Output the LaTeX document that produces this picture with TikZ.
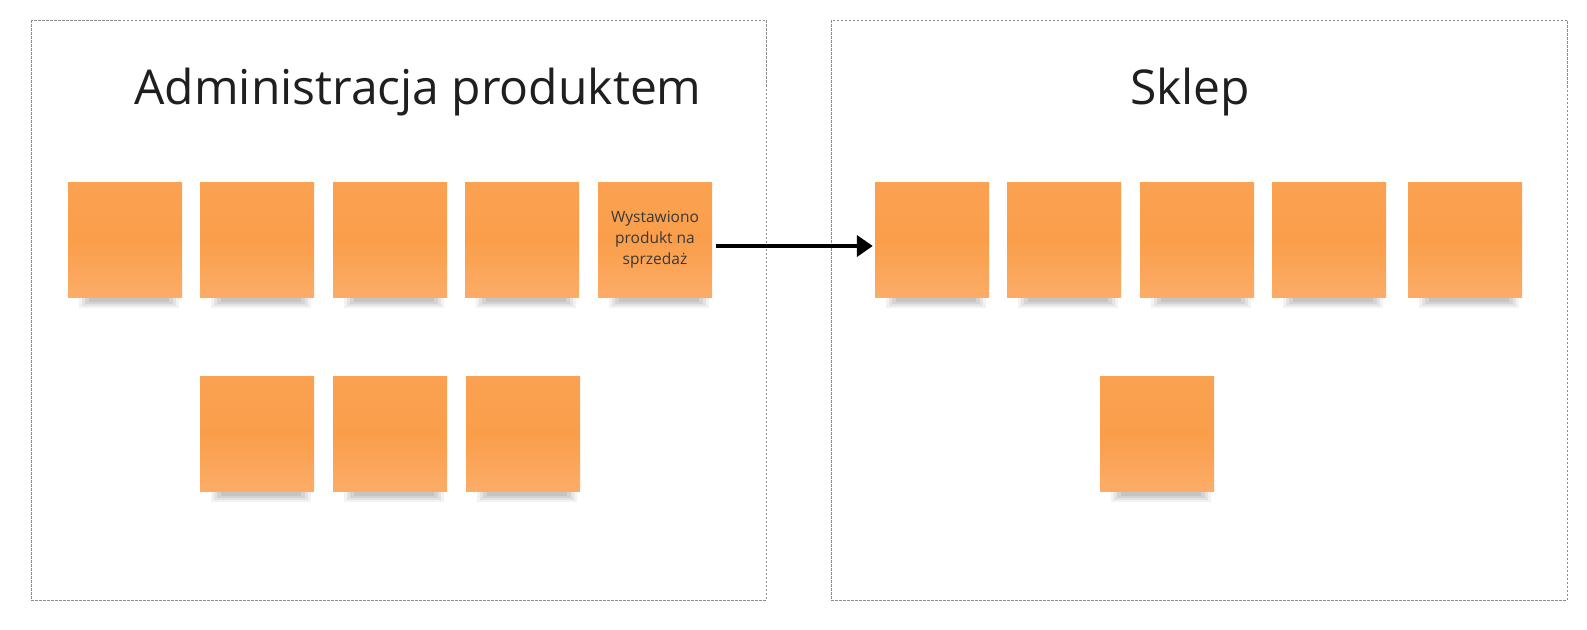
\documentclass[tikz,border=0pt]{standalone}
\usepackage{fontspec}
\setmainfont{Open Sans}
\usetikzlibrary{arrows.meta}
\definecolor{noteA}{RGB}{250,158,74}
\definecolor{noteT}{RGB}{250,162,82}
\definecolor{noteB}{RGB}{252,172,104}
\definecolor{frameC}{RGB}{140,140,140}
\tikzset{
  frame/.style={draw=frameC, dashed, dash pattern=on 2.5pt off 1.5pt, line width=0.9pt},
  sticky/.style={minimum width=114pt, minimum height=115pt, inner sep=2pt,
     top color=noteT, bottom color=noteB, middle color=noteA, draw=none,
     align=center, font=\fontsize{15.5}{21}\selectfont, text=black!78},
  titletext/.style={font=\fontsize{48}{56}\selectfont, text=black!88},
  link/.style={line width=4.5pt, -{Triangle[length=16pt,width=21pt]}}
}
\begin{document}
\begin{tikzpicture}[x=1pt,y=-1pt]
\useasboundingbox[fill=white] (0,0) rectangle (1587,629);
\draw[frame] (31,20) rectangle (766,600);
\draw[frame] (831,20) rectangle (1567,600);
\node[titletext] (t1) at (418,92) {Administracja produktem};
\node[titletext] (t2) at (1190,92) {Sklep};
% shadows
\foreach \x/\y in {125/240,257/240,390/240,522/240,655/240,932/240,1064/240,1197/240,1329/240,1465/240,257/434,390/434,523/434,1157/434}{
  \fill[black!50, opacity=0.10] (\x-46,\y+57) rectangle (\x+54,\y+68);
  \fill[black!50, opacity=0.13] (\x-43,\y+57) rectangle (\x+51,\y+66);
  \fill[black!50, opacity=0.16] (\x-40,\y+57) rectangle (\x+48,\y+64);
  \fill[black!50, opacity=0.18] (\x-36,\y+57) rectangle (\x+44,\y+62);
}
\node[sticky] (a1) at (125,240) {};
\node[sticky] (a2) at (257,240) {};
\node[sticky] (a3) at (390,240) {};
\node[sticky] (a4) at (522,240) {};
\node[sticky] (a5) at (655,240) {Wystawiono\\produkt na\\sprzedaż};
\node[sticky] (b1) at (932,240) {};
\node[sticky] (b2) at (1064,240) {};
\node[sticky] (b3) at (1197,240) {};
\node[sticky] (b4) at (1329,240) {};
\node[sticky] (b5) at (1465,240) {};
\node[sticky] (a6) at (257,434) {};
\node[sticky] (a7) at (390,434) {};
\node[sticky] (a8) at (523,434) {};
\node[sticky] (b6) at (1157,434) {};
\draw[link] ([xshift=4pt,yshift=-6pt]a5.east) -- ([xshift=-2pt,yshift=-6pt]b1.west);
\end{tikzpicture}
\end{document}
